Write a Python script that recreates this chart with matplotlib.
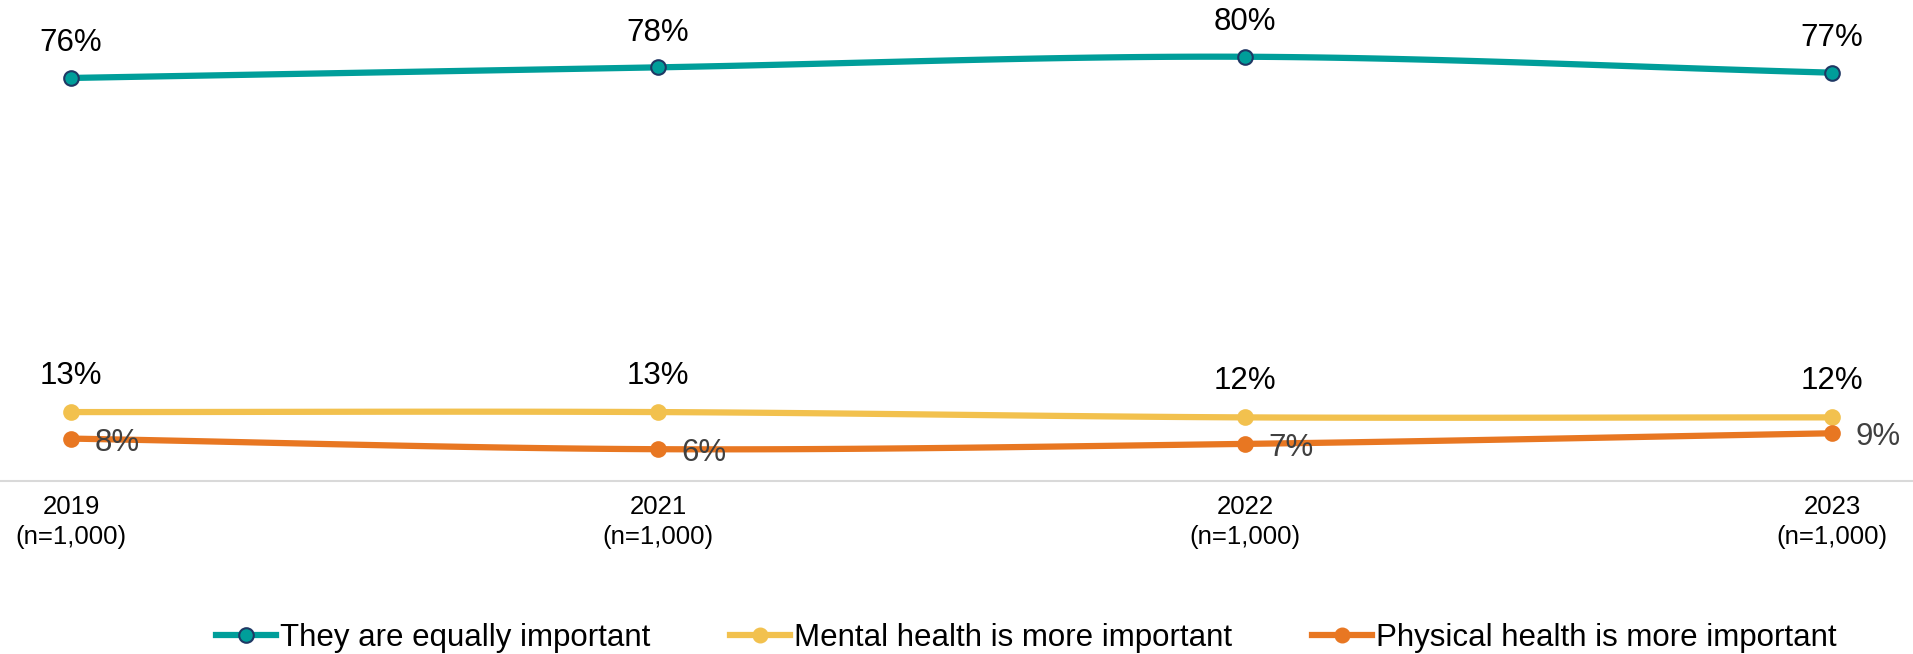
import numpy as np
import matplotlib
matplotlib.use("Agg")
import matplotlib.pyplot as plt
from matplotlib.lines import Line2D

plt.rcParams['font.family'] = ['Liberation Sans', 'DejaVu Sans']

years = ["2019\n(n=1,000)", "2021\n(n=1,000)", "2022\n(n=1,000)", "2023\n(n=1,000)"]
equally = [76, 78, 80, 77]
mental = [13, 13, 12, 12]
physical = [8, 6, 7, 9]

series_names = ["They are equally important", "Mental health is more important",
                "Physical health is more important"]
colors = ["#009E9A", "#F2C14E", "#E87722"]


def smooth(xs, ys, n=40):
    # Catmull-Rom curve through the points, like a spreadsheet "smoothed line"
    xs = np.asarray(xs, float)
    ys = np.asarray(ys, float)
    px = np.concatenate([[2 * xs[0] - xs[1]], xs, [2 * xs[-1] - xs[-2]]])
    py = np.concatenate([[2 * ys[0] - ys[1]], ys, [2 * ys[-1] - ys[-2]]])
    out_x, out_y = [], []
    t = np.linspace(0, 1, n)
    for i in range(1, len(px) - 2):
        for arr, out in ((px, out_x), (py, out_y)):
            p0, p1, p2, p3 = arr[i - 1], arr[i], arr[i + 1], arr[i + 2]
            out.extend(0.5 * ((2 * p1) + (-p0 + p2) * t
                              + (2 * p0 - 5 * p1 + 4 * p2 - p3) * t ** 2
                              + (-p0 + 3 * p1 - 3 * p2 + p3) * t ** 3))
    return np.array(out_x), np.array(out_y)


fig = plt.figure(figsize=(19.13, 6.54), dpi=100)
ax = fig.add_axes([0, 0.2645, 1, 0.7355])
x = np.arange(len(years))

lw = 4.5
ms = 10.5
for vals, c, edge in ((equally, colors[0], "#1F3864"), (mental, colors[1], colors[1]),
                      (physical, colors[2], colors[2])):
    sx, sy = smooth(x, vals)
    ax.plot(sx, sy, color=c, lw=lw, solid_capstyle="round", zorder=2)
    ax.plot(x, vals, linestyle="none", marker="o", ms=ms, mfc=c, mec=edge, mew=1.5, zorder=3)

for xi, v in zip(x, equally):
    ax.annotate(f"{v}%", (xi, v), xytext=(0, 25), textcoords="offset points",
                ha="center", va="center", fontsize=22.5, color="black")
for xi, v in zip(x, mental):
    ax.annotate(f"{v}%", (xi, v), xytext=(0, 26), textcoords="offset points",
                ha="center", va="center", fontsize=22.5, color="black")
for xi, v in zip(x, physical):
    ax.annotate(f"{v}%", (xi, v), xytext=(17, -3), textcoords="offset points",
                ha="left", va="center", fontsize=22.5, color="#404040")

ax.set_xlim(-0.121, 3.138)
ax.set_ylim(0, 90.7)
ax.axhline(0, color="#D9D9D9", lw=1.5, clip_on=False, zorder=1)
for s in ax.spines.values():
    s.set_visible(False)
ax.set_yticks([])
ax.set_xticks(x)
ax.set_xticklabels(years, fontsize=18.5, color="black", linespacing=1.3)
ax.tick_params(axis="x", length=0, pad=10)

handles = [Line2D([], [], color=colors[0], lw=lw, marker="o", ms=ms, mfc=colors[0],
                  mec="#1F3864", mew=1.5),
           Line2D([], [], color=colors[1], lw=lw, marker="o", ms=ms, mfc=colors[1], mec=colors[1]),
           Line2D([], [], color=colors[2], lw=lw, marker="o", ms=ms, mfc=colors[2], mec=colors[2])]
fig.legend(handles, series_names, loc="center", bbox_to_anchor=(0.5366, 0.024), ncol=3,
           frameon=False, fontsize=22.5, handlelength=1.9, handletextpad=0.15,
           columnspacing=2.55)

fig.savefig("out.png", dpi=100)
